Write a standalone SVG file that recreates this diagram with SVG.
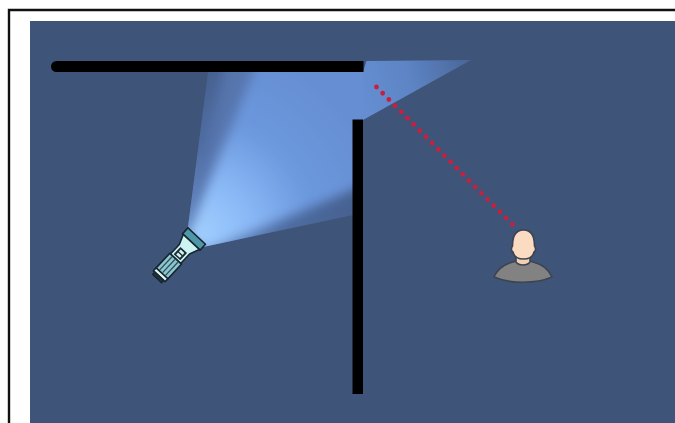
<svg xmlns="http://www.w3.org/2000/svg" width="675" height="423" viewBox="0 0 675 423">
<style>
.wall{fill:#000}
.ol{stroke:#17262f;stroke-width:1.6;stroke-linejoin:round}
.po{stroke:#3c4450;stroke-width:1.6;stroke-linejoin:round}
</style>
<defs>
<radialGradient id="core" gradientUnits="userSpaceOnUse" cx="195" cy="236" r="190">
<stop offset="0" stop-color="#a2d0ff"/><stop offset=".3" stop-color="#8ab8f6"/><stop offset=".62" stop-color="#6c98de"/><stop offset="1" stop-color="#668fd3"/>
</radialGradient>
<radialGradient id="base" gradientUnits="userSpaceOnUse" cx="195" cy="236" r="170">
<stop offset="0" stop-color="#6f95d2"/><stop offset=".5" stop-color="#4f6da2"/><stop offset="1" stop-color="#45608f"/>
</radialGradient>
<linearGradient id="refl" gradientUnits="userSpaceOnUse" x1="362" y1="95" x2="470" y2="61">
<stop offset="0" stop-color="#658ed2"/><stop offset=".45" stop-color="#5d84c4"/><stop offset="1" stop-color="#4a6699"/>
</linearGradient>
<clipPath id="lit"><path d="M188 227L208 72H363V120H353V215L203 247Z"/></clipPath>
<filter id="b6" x="-20%" y="-20%" width="140%" height="140%"><feGaussianBlur stdDeviation="6"/></filter>
<filter id="b1" x="-10%" y="-10%" width="120%" height="120%"><feGaussianBlur stdDeviation=".7"/></filter>
</defs>
<rect width="675" height="423" fill="#fff"/>
<path d="M9 423V10H675" fill="none" stroke="#111" stroke-width="2.400"/>
<rect x="30" y="21" width="645" height="402" fill="#3f5479"/>
<g id="beam">
<path d="M188 227L208 72H363V120H353V215L203 247Z" fill="url(#base)" filter="url(#b1)"/>
<g clip-path="url(#lit)">
<path d="M186 232L226 60H380V120H360V180L205 250Z" fill="#5775ad" filter="url(#b6)"/>
<path d="M187 236L258 60H380V120H365V184L205 252Z" fill="url(#core)" filter="url(#b6)"/>
</g>
<path d="M363 72L366.500 61L471 60L363 120Z" fill="url(#refl)" filter="url(#b1)"/>
</g>
<g id="walls">
<path class="wall" d="M56.500 61H363.500V72H56.500A5.500 5.500 0 0 1 56.500 61Z"/>
<rect class="wall" x="352.500" y="119.500" width="10.500" height="274.500"/>
</g>
<g id="connectors">
<line x1="376.500" y1="87" x2="513" y2="225" stroke="#c7203f" stroke-width="4.800" stroke-linecap="round" stroke-dasharray="0 8.780"/>
</g>
<g id="flashlight" transform="translate(194 239) rotate(43)">
<rect class="ol" x="-12" y="-4" width="24" height="8" fill="#4e97a8"/>
<path class="ol" d="M-11 4H11L7 14V27H-7V14Z" fill="#cdf4f3"/>
<rect x="-4.500" y="15" width="9" height="10" fill="#1c2b33"/>
<rect x="-2.500" y="16.800" width="5" height="2.600" fill="#d5f3f3"/>
<rect x="-2.500" y="20.800" width="5" height="2.600" fill="#d5f3f3"/>
<rect class="ol" x="-8" y="27" width="16" height="20" fill="#8cc6cf"/>
<path d="M-4 28V46M0 28V46M4 28V46" stroke="#2d4f5c" stroke-width="1.300" fill="none"/>
<rect class="ol" x="-8" y="47" width="16" height="4" fill="#dff5f4"/>
<rect class="ol" x="-6" y="51" width="12" height="3" fill="#24353e"/>
</g>
<g id="person">
<path class="po" d="M494 277C498 268 505 264 513 262L523 258L533 262C541 264 548 268 552 277C536 284 510 284 494 277Z" fill="#828282"/>
<path class="po" d="M516 254V262C519 266 527 266 530 262V254Z" fill="#f2d0b4"/>
<path class="po" d="M512.500 246C512.500 235 517 230 523.500 230C530 230 534.500 235 534.500 246C536 248 536 251 534 252C533 257 529 259 523.500 259C518 259 514 257 513 252C511 251 511 248 512.500 246Z" fill="#fbdcc2"/>
</g>
</svg>
